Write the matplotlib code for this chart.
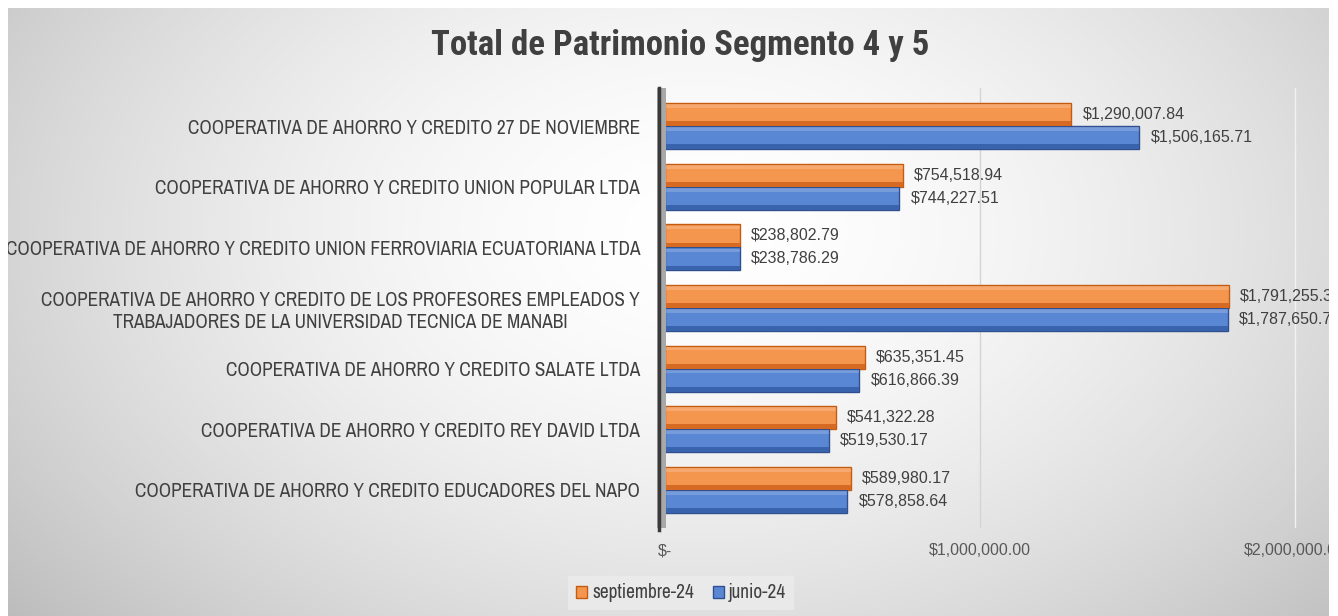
import numpy as np
import matplotlib
matplotlib.use("Agg")
import matplotlib.pyplot as plt
from matplotlib import font_manager as fm
from matplotlib.patches import Rectangle, Patch
from matplotlib.lines import Line2D

# ---------------- data ----------------
categories = [
    "COOPERATIVA DE AHORRO Y CREDITO 27 DE NOVIEMBRE",
    "COOPERATIVA DE AHORRO Y CREDITO UNION POPULAR LTDA",
    "COOPERATIVA DE AHORRO Y CREDITO UNION FERROVIARIA ECUATORIANA LTDA",
    "COOPERATIVA DE AHORRO Y CREDITO DE LOS PROFESORES EMPLEADOS Y\nTRABAJADORES DE LA UNIVERSIDAD TECNICA DE MANABI",
    "COOPERATIVA DE AHORRO Y CREDITO SALATE LTDA",
    "COOPERATIVA DE AHORRO Y CREDITO REY DAVID LTDA",
    "COOPERATIVA DE AHORRO Y CREDITO EDUCADORES DEL NAPO",
]
septiembre_24 = [1290007.84, 754518.94, 238802.79, 1791255.35, 635351.45, 541322.28, 589980.17]
junio_24 = [1506165.71, 744227.51, 238786.29, 1787650.75, 616866.39, 519530.17, 578858.64]
series_names = ["septiembre-24", "junio-24"]
xtick_values = [0, 1000000, 2000000]
xtick_labels = ["$-", "$1,000,000.00", "$2,000,000.00"]
title = "Total de Patrimonio Segmento 4 y 5"

# ---------------- fonts ----------------
fonts = fm.fontManager.ttflist
available = {f.name for f in fonts}


def pick(cands, default="DejaVu Sans", min_weight=None):
    for c in cands:
        if min_weight is None:
            if c in available:
                return c
        else:
            for f in fonts:
                if f.name == c and f.style == "normal" and isinstance(f.weight, int) and f.weight >= min_weight:
                    return c
    return default


NARROW_NAME = pick(["Aptos Narrow", "Arial Narrow", "Liberation Sans Narrow", "Archivo Narrow",
                    "Roboto Condensed", "PT Sans Narrow", "IBM Plex Sans Condensed",
                    "Open Sans Condensed"])
TITLE_NAME = pick(["Aptos Narrow", "Arial Narrow", "Liberation Sans Narrow", "Roboto Condensed",
                   "Archivo Narrow", "PT Sans Narrow", "IBM Plex Sans Condensed",
                   "Fira Sans Condensed", "Barlow Condensed", "Open Sans Condensed"], min_weight=700)
NARROW = [NARROW_NAME, "DejaVu Sans"]
TITLEF = [TITLE_NAME, "DejaVu Sans"]
REG = [pick(["Liberation Sans", "Arimo", "Arial"]), "DejaVu Sans"]
TXT = "#404040"

# ---------------- figure ----------------
W, H = 1338, 616
fig = plt.figure(figsize=(W / 100, H / 100), dpi=100)
fig.patch.set_facecolor("white")

# background radial gradient
bg = fig.add_axes([0, 0, 1, 1], zorder=-10)
yy, xx = np.mgrid[0:H, 0:W]
r = np.sqrt(((xx - 700) / 820.0) ** 2 + ((yy - 230) / 540.0) ** 2)
val = 1.0 - 0.22 * np.clip(r, 0, 1.2) ** 1.7
img = np.dstack([val, val, val])
bg.imshow(img, extent=[0, W, H, 0], aspect="auto", interpolation="bilinear")
bg.set_xlim(0, W)
bg.set_ylim(H, 0)
bg.axis("off")

# main axes (pixel geometry)
x0_px, right_px = 665, W
top_px, bot_px = 88, 528
px_per_unit = 315e-6
ax = fig.add_axes([x0_px / W, 1 - bot_px / H, (right_px - x0_px) / W, (bot_px - top_px) / H])
ax.set_facecolor("none")
ax.set_xlim(0, (right_px - x0_px) / px_per_unit)
n = len(categories)
ax.set_ylim(-0.63, n - 1 + 0.63)
for s in ax.spines.values():
    s.set_visible(False)

ypos = np.arange(n)[::-1]  # first category at top
bh = 0.38
orange, orange_e, orange_d = "#F5964F", "#C55A11", "#D66A22"
blue, blue_e, blue_d = "#5A87D4", "#2F4F8F", "#3A63AE"

# gridlines
ax.axvline(1000000, color="#d4d4d4", lw=1, zorder=0)
ax.axvline(2000000, color="#f2f2f2", lw=1, zorder=0)

for yc, vs, vj in zip(ypos, septiembre_24, junio_24):
    for v, yb, fc, ec, dc in [(vs, yc + bh / 2, orange, orange_e, orange_d),
                              (vj, yc - bh / 2, blue, blue_e, blue_d)]:
        ax.barh(yb, v, height=bh, color=fc, edgecolor=ec, linewidth=1.0, zorder=3)
        ax.barh(yb - bh / 2 + 0.04, v, height=0.08, color=dc, linewidth=0, zorder=4)
        ax.barh(yb + bh / 2 - 0.05, v, height=0.06, color="white", alpha=0.18, linewidth=0, zorder=4)
        ax.annotate(f"${v:,.2f}", xy=(v, yb), xytext=(8, 0), textcoords="offset points",
                    va="center", ha="left", fontsize=11.5, family=REG, color=TXT,
                    annotation_clip=False, zorder=5)

ax.set_yticks(ypos)
ax.set_yticklabels(categories, fontsize=13.9, family=NARROW, color=TXT)
for lab in ax.get_yticklabels():
    lab.set_multialignment("center")
ax.tick_params(axis="y", length=0, pad=18)
ax.set_xticks(xtick_values)
ax.set_xticklabels(xtick_labels, fontsize=11.5, family=REG, color="#595959")
ax.tick_params(axis="x", length=0, pad=11)

# 3D side wall on the left
fig.add_artist(Rectangle((657 / W, 1 - bot_px / H), 9 / W, (bot_px - top_px) / H,
                         transform=fig.transFigure, facecolor="#a8a8a8", edgecolor="none", zorder=2))
fig.add_artist(Line2D([658.5 / W, 658.5 / W], [1 - (bot_px + 2) / H, 1 - top_px / H],
                      transform=fig.transFigure, color="#3a3a3a", lw=2.5, zorder=3))

# title
fig.text(680 / W, 1 - 45 / H, title, ha="center", va="center", fontsize=25,
         fontweight="bold", family=TITLEF, color=TXT)

# legend
handles = [Patch(facecolor=orange, edgecolor=orange_e, label=series_names[0]),
           Patch(facecolor=blue, edgecolor=blue_e, label=series_names[1])]
leg = fig.legend(handles=handles, loc="center", bbox_to_anchor=(681 / W, 1 - 593 / H), ncol=2,
                 frameon=True, prop={"family": NARROW, "size": 13.9},
                 handlelength=0.57, handleheight=0.57, handletextpad=0.25, columnspacing=1.0,
                 borderpad=0.4, borderaxespad=0, fancybox=False)
leg.get_frame().set_facecolor("#ececec")
leg.get_frame().set_edgecolor("none")
for t in leg.get_texts():
    t.set_color(TXT)

# white outer border (top, left, right)
for (x, y, w, h) in [(0, H - 8, W, 8), (0, 0, 8, H), (W - 9, 0, 9, H)]:
    fig.add_artist(Rectangle((x / W, y / H), w / W, h / H, transform=fig.transFigure,
                             facecolor="white", edgecolor="none", zorder=20))

fig.savefig("out.png", dpi=100)
